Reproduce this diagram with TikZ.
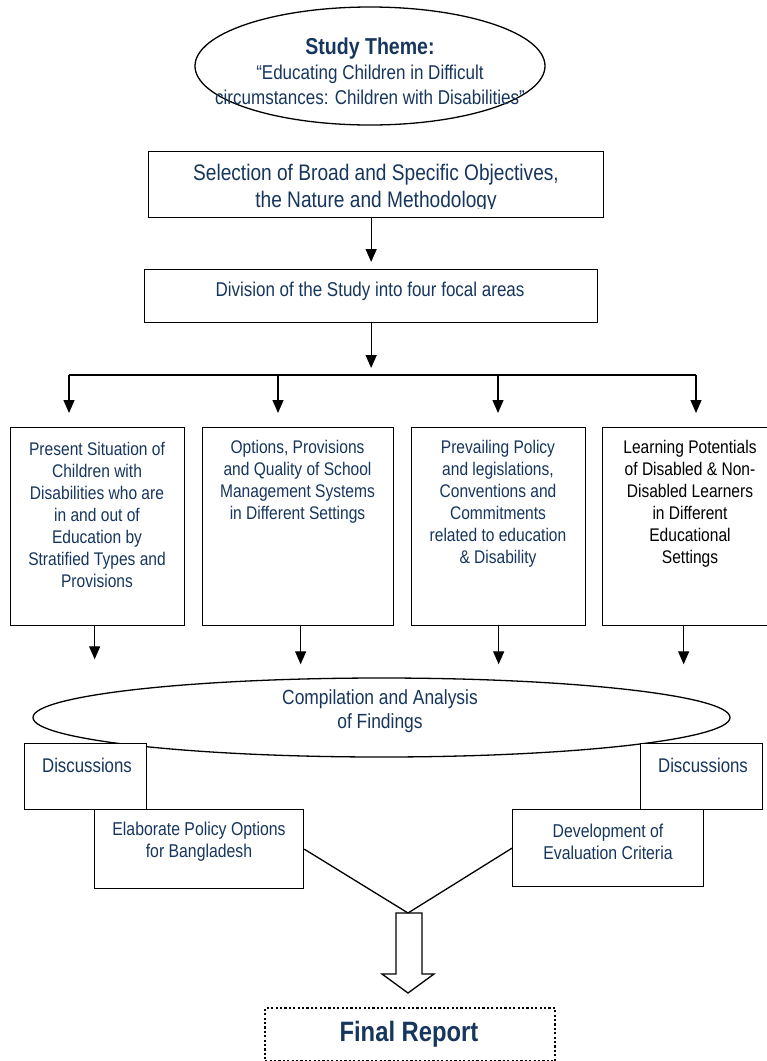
\documentclass[tikz,border=0pt]{standalone}
\usepackage{fontspec}
\setmainfont[FakeStretch=0.85]{Liberation Sans}
\usetikzlibrary{arrows.meta,shapes.geometric}
\definecolor{txtblue}{RGB}{23,54,93}
\tikzset{
  box/.style={draw=black, line width=1.3pt, fill=white, rectangle, inner sep=0pt, anchor=north west},
  txt/.style={text=txtblue, align=center, inner sep=0pt},
  arr/.style={line width=1.3pt, -{Triangle[width=11pt,length=13pt]}},
  conn/.style={line width=1.3pt},
  bodyfont/.style={font=\fontsize{18.3}{22}\selectfont}
}
\begin{document}
\begin{tikzpicture}[x=1pt,y=-1pt]
\useasboundingbox (0,0) rectangle (767,1061);

% Study theme ellipse
\node[draw, line width=1.3pt, ellipse, minimum width=350pt, minimum height=118pt, inner sep=0pt] (themeell) at (370,66) {};
\node[txt, font=\fontsize{20}{25}\selectfont] (theme) at (370,71)
  {{\fontsize{23}{25}\selectfont\bfseries Study Theme:}\\
   “Educating Children in Difficult\\
   circumstances: Children with Disabilities”};

% Selection box
\node[box, minimum width=455pt, minimum height=66pt] (sel) at (148,151) {};
\begin{scope}
\clip (148,151) rectangle (603,208);
\node[txt, font=\fontsize{22.5}{27}\selectfont] (seltxt) at (376,188)
  {Selection of Broad and Specific Objectives,\\ the Nature and Methodology};
\end{scope}

% Division box
\node[box, minimum width=453pt, minimum height=53pt] (div) at (144,269) {};
\node[txt, font=\fontsize{20}{24}\selectfont] (divtxt) at (370,291)
  {Division of the Study into four focal areas};

\draw[arr, shorten >=7pt] (div.north |- sel.south) -- (div.north);

% Tree
\coordinate (hub) at (370,375);
\coordinate (t1) at (69,375);
\coordinate (t2) at (278,375);
\coordinate (t3) at (498,375);
\coordinate (t4) at (696,375);
\draw[arr, shorten >=7pt] (div.south) -- (div.south |- hub);
\draw[conn] (t1) -- (t4);

% Four focal boxes
\node[box, minimum width=174pt, minimum height=198pt] (b1) at (10,427) {};
\node[box, minimum width=191pt, minimum height=198pt] (b2) at (202,427) {};
\node[box, minimum width=174pt, minimum height=198pt] (b3) at (411,427) {};
\node[box, minimum width=176pt, minimum height=198pt] (b4) at (602,427) {};

\draw[arr, shorten >=14pt] (t1) -- (t1 |- b1.north);
\draw[arr, shorten >=14pt] (t2) -- (t2 |- b2.north);
\draw[arr, shorten >=14pt] (t3) -- (t3 |- b3.north);
\draw[arr, shorten >=14pt] (t4) -- (t4 |- b4.north);

\node[txt, bodyfont] (b1t) at (97,515)
  {Present Situation of\\ Children with\\ Disabilities who are\\ in and out of\\ Education by\\ Stratified Types and\\ Provisions};
\node[txt, bodyfont] (b2t) at (297.5,482)
  {Options, Provisions\\ and Quality of School\\ Management Systems\\ in Different Settings};
\node[txt, bodyfont] (b3t) at (498,504)
  {Prevailing Policy\\ and legislations,\\ Conventions and\\ Commitments\\ related to education\\ \& Disability};
\node[txt, bodyfont, text=black] (b4t) at (690,504)
  {Learning Potentials\\ of Disabled \& Non-\\ Disabled Learners\\ in Different\\ Educational\\ Settings};

% Compilation ellipse
\node[draw, line width=1.3pt, ellipse, minimum width=697pt, minimum height=79pt, inner sep=0pt] (comp) at (381.5,717.5) {};
\node[txt, font=\fontsize{20.5}{24}\selectfont] (comptxt) at (380,711)
  {Compilation and Analysis\\ of Findings};

\draw[arr] ([xshift=-3pt]b1.south) -- ++(0,33);
\draw[arr] ([xshift=2.5pt]b2.south) -- ++(0,38);
\draw[arr] (b3.south) -- ++(0,38);
\draw[arr] ([xshift=-7pt]b4.south) -- ++(0,38);

% Discussions boxes
\node[box, minimum width=122pt, minimum height=66pt] (d1) at (24,743) {};
\node[txt, font=\fontsize{19.8}{24}\selectfont] (d1t) at (87,765) {Discussions};
\node[box, minimum width=122pt, minimum height=66pt] (d2) at (640,743) {};
\node[txt, font=\fontsize{19.8}{24}\selectfont] (d2t) at (703,765) {Discussions};

% Policy / Criteria boxes
\node[box, minimum width=209pt, minimum height=79pt] (elab) at (94,809) {};
\node[txt, font=\fontsize{18.6}{22}\selectfont] (elabt) at (199,842) {Elaborate Policy Options\\ for Bangladesh};
\node[box, minimum width=191pt, minimum height=77pt] (dev) at (512,809) {};
\node[txt, font=\fontsize{18.6}{22}\selectfont] (devt) at (608,842) {Development of\\ Evaluation Criteria};

\coordinate (m) at (408,913);
\draw[conn] (elab.east) -- (m);
\draw[conn] (dev.west) -- (m);

% Block arrow
\draw[line width=1.3pt, line join=miter] (396,913) -- (396,974) -- (382,974) -- (408,993) -- (434,974) -- (422,974) -- (422,913) -- cycle;

% Final report
\node[draw, line width=2.2pt, dash pattern=on 2.2pt off 2.2pt, rectangle, inner sep=0pt, anchor=north west, minimum width=290pt, minimum height=53pt] (final) at (264,1007) {};
\node[txt, font=\fontsize{28}{30}\selectfont\bfseries] (finalt) at (409,1034) {Final Report};
\end{tikzpicture}
\end{document}
